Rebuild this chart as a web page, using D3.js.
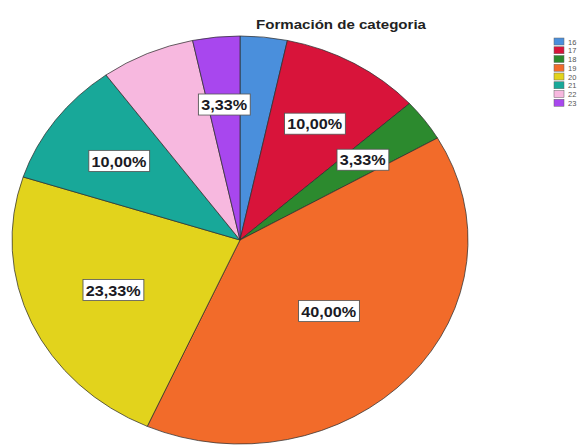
<!DOCTYPE html>
<html lang="es">
<head>
<meta charset="UTF-8">
<title>Formación de categoria</title>
<script src="https://d3js.org/d3.v7.min.js"></script>
<style>
  body { margin: 0; background: #fff; }
  text { font-family: "Liberation Sans", Arial, sans-serif; }
</style>
</head>
<body>
<div id="chart"></div>
<script>
var categories = ["16", "17", "18", "19", "20", "21", "22", "23"];
var counts = [1, 3, 1, 12, 7, 3, 2, 1];
var colors = ["#4a8fdc", "#d8143a", "#2c8a2e", "#f26b2a", "#e2d31c", "#18a899", "#f7b8df", "#a847ee"];
var showLabel = [false, true, true, true, true, true, false, true];

var width = 582, height = 446;
var cx = 240, cy = 240, ry = 204, rx = 228;

var svg = d3.select("#chart").append("svg")
    .attr("width", width)
    .attr("height", height);

var total = d3.sum(counts);
var data = categories.map(function(c, i) {
  return { cat: c, value: counts[i], color: colors[i], label: showLabel[i] };
});

var pie = d3.pie().sort(null).value(function(d) { return d.value; });
var arc = d3.arc().innerRadius(0).outerRadius(ry);
var arcs = pie(data);

// the chart is stretched horizontally, text included
var g = svg.append("g")
    .attr("transform", "translate(" + cx + "," + cy + ") scale(" + (rx / ry) + ",1)");

g.selectAll("path")
  .data(arcs)
  .enter().append("path")
    .attr("d", arc)
    .attr("fill", function(d) { return d.data.color; })
    .attr("stroke", "#2e2e2e")
    .attr("stroke-width", 0.7);

// label at the centroid of the sector
function centroid(d) {
  var th = d.endAngle - d.startAngle;
  var dist = 4 * ry * Math.sin(th / 2) / (3 * th);
  if (th > 2) dist += 4;
  var a = (d.startAngle + d.endAngle) / 2;
  return [dist * Math.sin(a), -dist * Math.cos(a)];
}

var fmt = function(v) { return d3.format(".2f")(v).replace(".", ",") + "%"; };

var lab = g.selectAll(".lab")
  .data(arcs.filter(function(d) { return d.data.label; }))
  .enter().append("g")
    .attr("class", "lab")
    .attr("transform", function(d) { return "translate(" + centroid(d) + ")"; });

lab.append("text")
    .attr("text-anchor", "middle")
    .attr("dy", "0.36em")
    .attr("font-size", 14.5)
    .attr("font-weight", "bold")
    .attr("fill", "#1a1a24")
    .text(function(d) { return fmt(d.data.value / total * 100); });

lab.each(function() {
  var t = d3.select(this).select("text");
  var b = t.node().getBBox();
  d3.select(this).insert("rect", "text")
      .attr("x", b.x - 2.5)
      .attr("y", b.y - 3)
      .attr("width", b.width + 5)
      .attr("height", b.height + 5)
      .attr("fill", "#fff")
      .attr("stroke", "#555")
      .attr("stroke-width", 0.8);
});

svg.append("text")
    .attr("transform", "translate(341,29) scale(" + (rx / ry) + ",1)")
    .attr("text-anchor", "middle")
    .attr("font-size", 13.5)
    .attr("font-weight", "bold")
    .attr("fill", "#222")
    .text("Formación de categoria");

var legendY = d3.scaleBand().domain(categories).range([38, 108]);

var leg = svg.selectAll(".leg")
  .data(data)
  .enter().append("g")
    .attr("class", "leg")
    .attr("transform", function(d) { return "translate(554," + legendY(d.cat) + ")"; });

leg.append("rect")
    .attr("width", 10)
    .attr("height", 7)
    .attr("fill", function(d) { return d.color; })
    .attr("stroke", "#666")
    .attr("stroke-width", 0.5);

leg.append("text")
    .attr("x", 14)
    .attr("y", 6.5)
    .attr("font-size", 7.5)
    .attr("fill", "#555")
    .text(function(d) { return d.cat; });
</script>
</body>
</html>
